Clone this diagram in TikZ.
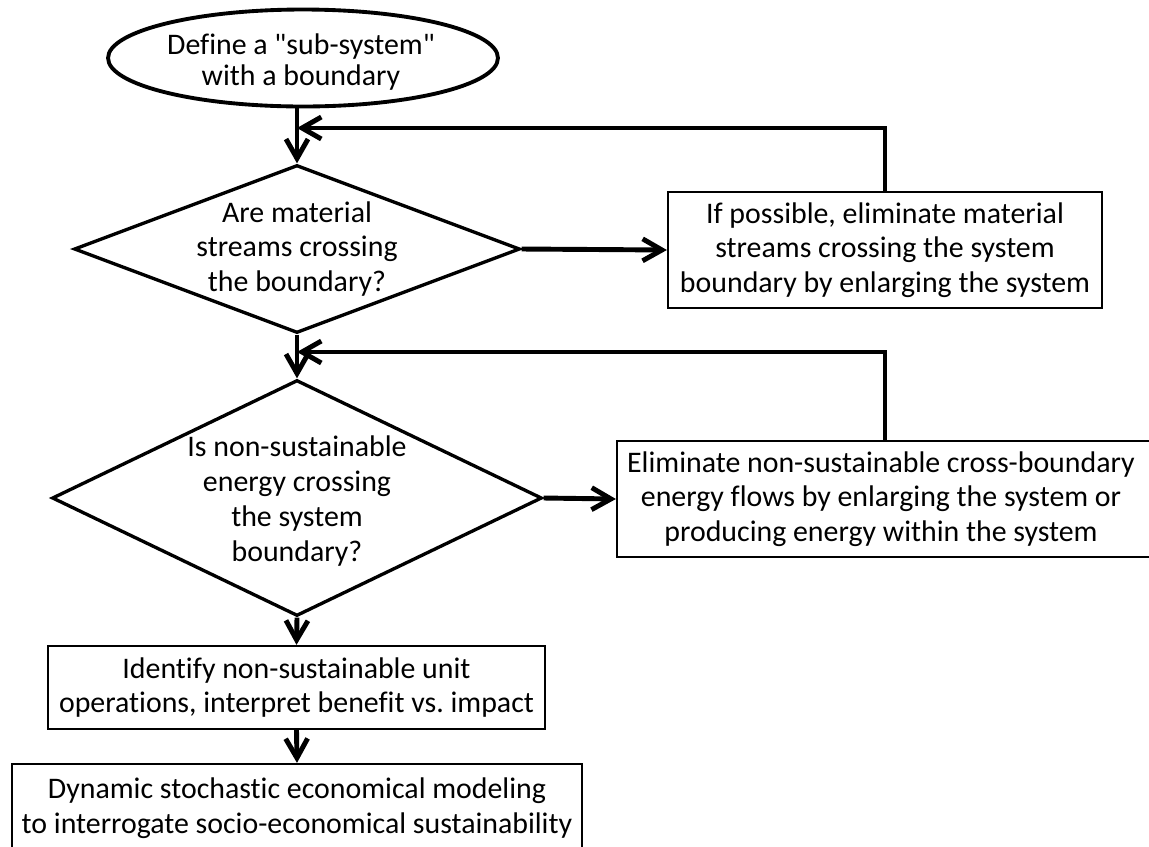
\documentclass[tikz,border=0pt]{standalone}
\usepackage{fontspec}
\newfontfamily\carlitofont{Carlito}[Ligatures=CommonOff]
\usetikzlibrary{arrows.meta,shapes.geometric,calc}
\begin{document}
\begin{tikzpicture}[x=0.02cm,y=-0.02cm,
  conn/.style={line width=2.8pt, -{Straight Barb[length=11pt,width=12.5pt]}},
  txt/.style={align=center, font=\carlitofont\fontsize{17}{19.8}\selectfont, inner sep=0pt},
  boxnode/.style={draw, line width=1.3pt, inner sep=0pt, align=center, font=\carlitofont\fontsize{17}{19.8}\selectfont},
  dia/.style={diamond, draw, line width=1.9pt, inner sep=0pt},
]
\useasboundingbox (0,0) rectangle (1149,846);

% start ellipse
\node[ellipse, draw, line width=2.2pt, minimum width=7.8cm, minimum height=1.94cm, inner sep=0pt] (start) at (303,58) {};
\node[txt, font=\carlitofont\fontsize{17}{18.1}\selectfont] (starttext) at (301,62) {Define a "sub-system"\\with a boundary};

% decision 1
\node[dia, minimum width=8.92cm, minimum height=3.36cm] (d1) at (297,249) {};
\node[txt] (d1text) at (d1.center) {Are material\\streams crossing\\the boundary?};

% box 1
\node[boxnode, minimum width=8.68cm, minimum height=2.32cm] (b1) at (885,250)
  {If possible, eliminate material\\streams crossing the system\\boundary by enlarging the system};

% decision 2
\node[dia, minimum width=9.8cm, minimum height=4.72cm] (d2) at (297,498) {};
\node[txt] (d2text) at (297,501) {Is non-sustainable\\energy crossing\\the system\\boundary?};

% box 2 (its right side runs off the picture)
\node[boxnode, minimum width=10.76cm, minimum height=2.32cm] (b2) at (886,499) {};
\node[txt] (b2text) at (881,499) {Eliminate non-sustainable cross-boundary\\energy flows by enlarging the system or\\producing energy within the system};

% box 3
\node[boxnode, minimum width=9.94cm, minimum height=1.66cm] (b3) at (296.5,687.5)
  {Identify non-sustainable unit\\operations, interpret benefit vs.\ impact};

% box 4
\node[boxnode, minimum width=11.4cm, minimum height=1.76cm] (b4) at (297,808)
  {Dynamic stochastic economical modeling\\to interrogate socio-economical sustainability};

% junction points on the main line
\coordinate (j1) at (297,128);
\coordinate (j2) at (297,352);

% connectors
\draw[conn] (start.south -| d1.north) -- (d1.north);
\draw[conn] (b1.north) |- (j1);
\draw[conn] (d1.east) -- (b1.west);
\draw[conn] (d1.south) -- (d2.north);
\draw[conn] (b2.north -| b1.north) |- (j2);
\draw[conn] (d2.east) -- (b2.west);
\draw[conn] (d2.south) -- (b3.north);
\draw[conn] (b3.south) -- (b4.north);
\end{tikzpicture}
\end{document}
